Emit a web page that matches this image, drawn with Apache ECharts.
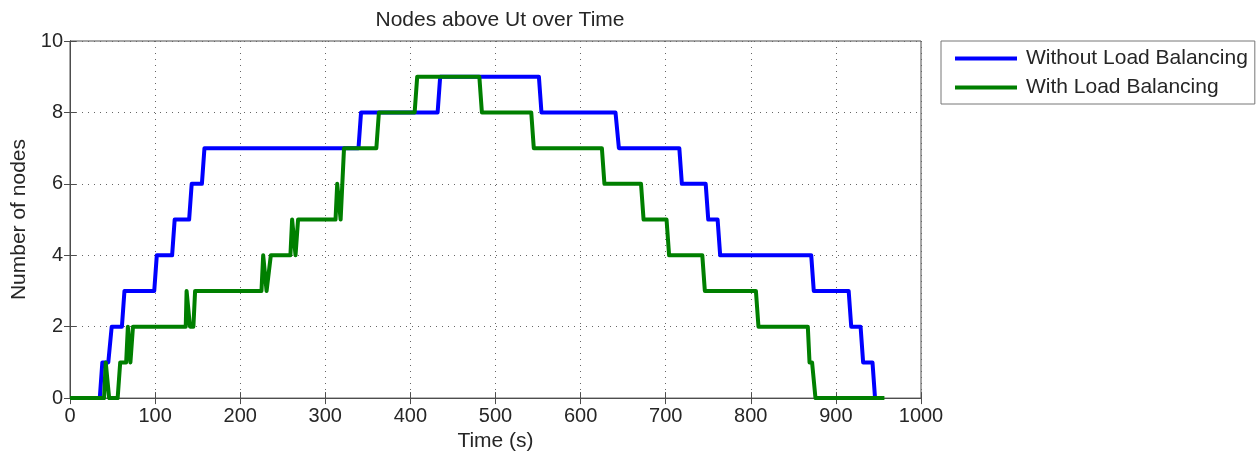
<!DOCTYPE html>
<html>
<head>
<meta charset="utf-8">
<script src="https://cdn.jsdelivr.net/npm/echarts@6/dist/echarts.min.js"></script>
<style>
html,body{margin:0;padding:0;background:#fff;}
#c{width:1258px;height:457px;}
</style>
</head>
<body>
<div id="c"></div>
<script>
const title = 'Nodes above Ut over Time';
const seriesNames = ['Without Load Balancing', 'With Load Balancing'];
const xTicks = [0,100,200,300,400,500,600,700,800,900,1000];
const yTicks = [0,2,4,6,8,10];

const blueT = [0,35,38,45,49,61,64,99,102,120,123,140,143,155,158,339,342,432,435,551,554,641,645,716,719,747,750,761,764,871,874,915,918,929,932,943,946,956];
const blueV = [0,0,1,1,2,2,3,3,4,4,5,5,6,6,7,7,8,8,9,9,8,8,7,7,6,6,5,5,4,4,3,3,2,2,1,1,0,0];

const greenT = [0,40,42,44,46,56,59,66,68,70,71,72,74,136,137,139,141,145,147,225,227,229,231,233,236,259,261,263,265,268,312,314,316,318,319,322,360,363,405,408,481,484,542,545,625,628,671,674,701,704,743,746,806,809,867,869,872,876,957];
const greenV = [0,0,1,1,0,0,1,1,2,2,1,1,2,2,3,3,2,2,3,3,4,4,3,3,4,4,5,5,4,5,5,6,6,5,5,7,7,8,8,9,9,8,8,7,7,6,6,5,5,4,4,3,3,2,2,1,1,0,0];

const pair = (t, v) => t.map((x, i) => [x, v[i]]);

const chart = echarts.init(document.getElementById('c'), null, {renderer: 'canvas'});
const font = 'Liberation Sans, Arial, sans-serif';
const axisCol = '#4d4d4d';
const txt = '#262626';
chart.setOption({
  animation: false,
  backgroundColor: '#fff',
  textStyle: {fontFamily: font},
  title: {
    text: title, left: 495, top: 5, textAlign: 'center',
    textStyle: {fontSize: 21, fontWeight: 'normal', color: txt, fontFamily: font}
  },
  legend: {
    orient: 'vertical', left: 941, top: 41,
    padding: [7, 7, 6, 14],
    itemGap: 8,
    itemWidth: 62, itemHeight: 4,
    icon: 'rect',
    borderColor: '#777', borderWidth: 1,
    backgroundColor: '#fff',
    textStyle: {fontSize: 21, color: txt, fontFamily: font, padding: [0, 0, 0, 4]},
    data: seriesNames
  },
  grid: {left: 70, top: 41, width: 851, height: 359, show: true, borderColor: axisCol, borderWidth: 1},
  xAxis: [{
    type: 'value', min: 0, max: 1000, interval: 100, position: 'bottom',
    name: 'Time (s)', nameLocation: 'middle', nameGap: 31,
    nameTextStyle: {fontSize: 21, color: txt, fontFamily: font},
    axisLine: {show: true, lineStyle: {color: axisCol}},
    axisTick: {show: true, inside: true, length: 6, lineStyle: {color: axisCol}},
    axisLabel: {fontSize: 20, color: txt, margin: 8, fontFamily: font, formatter: v => String(v)},
    splitLine: {show: true, lineStyle: {color: '#666', type: [1, 5], width: 1}}
  }, {
    type: 'value', min: 0, max: 1000, interval: 100, position: 'top',
    axisLine: {show: true, lineStyle: {color: axisCol}},
    axisTick: {show: true, inside: true, length: 6, lineStyle: {color: axisCol}},
    axisLabel: {show: false}, splitLine: {show: false}
  }],
  yAxis: [{
    type: 'value', min: 0, max: 10, interval: 2, position: 'left',
    name: 'Number of nodes', nameLocation: 'middle', nameGap: 36,
    nameTextStyle: {fontSize: 21, color: txt, fontFamily: font},
    axisLine: {show: true, lineStyle: {color: axisCol}},
    axisTick: {show: true, inside: true, length: 6, lineStyle: {color: axisCol}},
    axisLabel: {fontSize: 20, color: txt, margin: 7, fontFamily: font},
    splitLine: {show: true, lineStyle: {color: '#666', type: [1, 5], width: 1}}
  }, {
    type: 'value', min: 0, max: 10, interval: 2, position: 'right',
    axisLine: {show: true, lineStyle: {color: axisCol}},
    axisTick: {show: true, inside: true, length: 6, lineStyle: {color: axisCol}},
    axisLabel: {show: false}, splitLine: {show: false}
  }],
  series: [{
    name: seriesNames[0], type: 'line', data: pair(blueT, blueV),
    showSymbol: false, symbol: 'none', color: '#0000ff',
    lineStyle: {width: 4, color: '#0000ff', join: 'round'}, z: 3
  }, {
    name: seriesNames[1], type: 'line', data: pair(greenT, greenV),
    showSymbol: false, symbol: 'none', color: '#007f00',
    lineStyle: {width: 4, color: '#007f00', join: 'round'}, z: 4
  }]
});
</script>
</body>
</html>
